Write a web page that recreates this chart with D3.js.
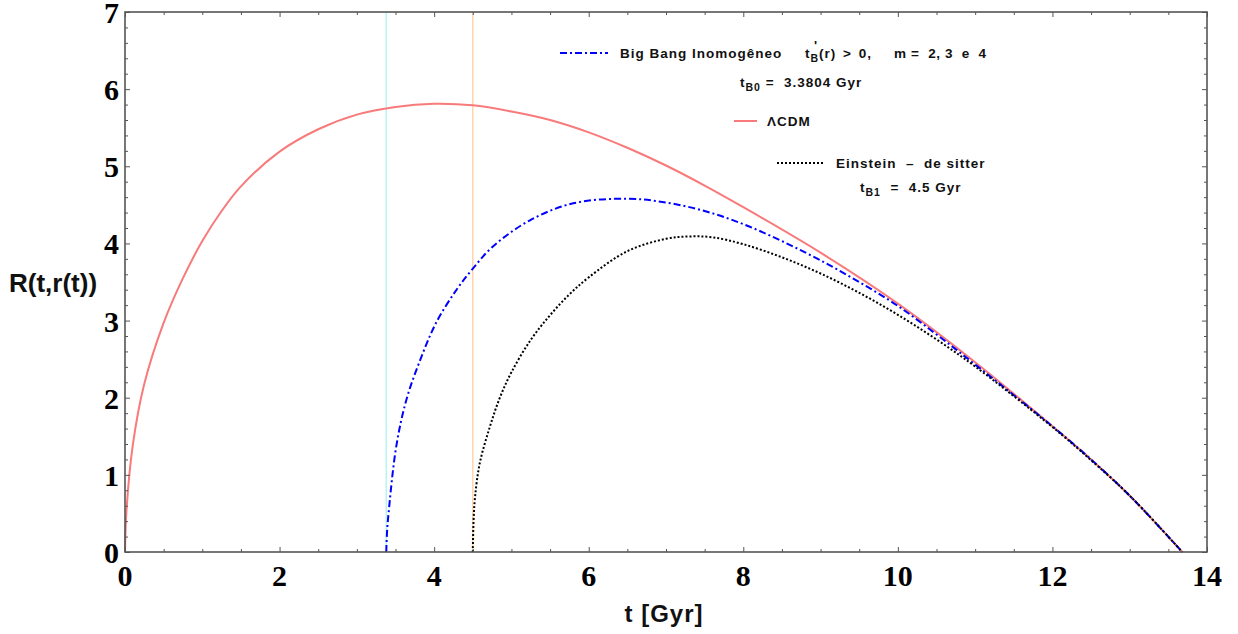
<!DOCTYPE html>
<html>
<head>
<meta charset="utf-8">
<script src="https://cdn.jsdelivr.net/npm/d3@7/dist/d3.min.js"></script>
<style>
  html, body { margin: 0; padding: 0; background: #fff; }
  svg { display: block; }
  .pre { white-space: pre; }
</style>
</head>
<body>
<svg id="chart" width="1238" height="634"></svg>
<script>
// ---- data ----
const xTicks = [0, 2, 4, 6, 8, 10, 12, 14];
const yTicks = [0, 1, 2, 3, 4, 5, 6, 7];

// Lambda-CDM
const lcdmT = [0, 0.02, 0.1, 0.25, 0.5, 0.75, 1.0, 1.25, 1.5, 2.0, 2.5, 3.0, 3.5, 4.0, 4.5, 5.0, 5.5, 6.0, 6.5, 7.0, 7.5, 8.0, 9.0, 10.0, 11.0, 12.0, 12.5, 13.0, 13.68];
const lcdmR = [0, 0.55, 1.38, 2.18, 2.97, 3.55, 4.03, 4.42, 4.74, 5.19, 5.48, 5.67, 5.77, 5.81, 5.79, 5.71, 5.60, 5.44, 5.24, 5.01, 4.75, 4.47, 3.88, 3.22, 2.46, 1.63, 1.20, 0.73, 0];

// Inhomogeneous Big Bang
const inhomT = [3.3804, 3.39, 3.41, 3.51, 3.64, 3.82, 4.03, 4.29, 4.49, 4.76, 5.24, 5.8, 6.5, 7.0, 7.5, 8.0, 8.5, 9.0, 9.5, 10.0, 10.5, 11.0, 12.0, 12.5, 13.0, 13.68];
const inhomR = [0, 0.25, 0.5, 1.37, 1.97, 2.49, 2.98, 3.40, 3.66, 3.96, 4.30, 4.52, 4.58, 4.53, 4.42, 4.25, 4.03, 3.78, 3.50, 3.19, 2.82, 2.43, 1.63, 1.20, 0.73, 0];

// Einstein - de Sitter
const edsT = [4.5, 4.51, 4.53, 4.59, 4.72, 4.85, 5.0, 5.25, 5.5, 5.75, 6.0, 6.5, 7.0, 7.3, 7.6, 8.0, 8.5, 9.0, 9.5, 10.0, 10.5, 11.0, 12.0, 12.5, 13.0, 13.68];
const edsR = [0, 0.4, 0.72, 1.15, 1.62, 2.0, 2.33, 2.75, 3.07, 3.34, 3.56, 3.90, 4.06, 4.09, 4.08, 3.99, 3.82, 3.61, 3.36, 3.075, 2.755, 2.405, 1.62, 1.19, 0.73, 0];

const bangTimes = [3.3804, 4.5];

// ---- layout ----
const svg = d3.select("#chart");
const mLeft = 125, mRight = 1207, mTop = 12, mBottom = 552;
const x = d3.scaleLinear().domain([0, 14]).range([mLeft, mRight]);
const y = d3.scaleLinear().domain([0, 7]).range([mBottom, mTop]);

const frameColor = "#555";

// vertical marker lines
svg.append("line").attr("x1", x(bangTimes[0])).attr("x2", x(bangTimes[0]))
  .attr("y1", y(7)).attr("y2", y(0)).attr("stroke", "#b8f4f4").attr("stroke-width", 1.5);
svg.append("line").attr("x1", x(bangTimes[1])).attr("x2", x(bangTimes[1]))
  .attr("y1", y(7)).attr("y2", y(0)).attr("stroke", "#ffcc99").attr("stroke-width", 1.2);

const line = d3.line().x(d => x(d[0])).y(d => y(d[1])).curve(d3.curveCatmullRom.alpha(0.5));

svg.append("path").datum(d3.zip(lcdmT, lcdmR)).attr("d", line)
  .attr("fill", "none").attr("stroke", "#f87a7a").attr("stroke-width", 2);
svg.append("path").datum(d3.zip(inhomT, inhomR)).attr("d", line)
  .attr("fill", "none").attr("stroke", "#0000ff").attr("stroke-width", 2)
  .attr("stroke-dasharray", "7,3,2,3");
svg.append("path").datum(d3.zip(edsT, edsR)).attr("d", line)
  .attr("fill", "none").attr("stroke", "#000").attr("stroke-width", 2)
  .attr("stroke-dasharray", "2,2");

// axes with inner ticks
function tickStyle(g) {
  g.select(".domain").remove();
  g.selectAll(".tick line").attr("stroke", frameColor).attr("stroke-width", 1);
}
const xMinor = d3.range(0, 14.001, 0.5).filter(v => Math.abs(v / 2 - Math.round(v / 2)) > 1e-6);
const yMinor = d3.range(0, 7.001, 0.2).filter(v => Math.abs(v - Math.round(v)) > 1e-6);

svg.append("g").attr("transform", `translate(0,${mBottom})`)
  .call(d3.axisBottom(x).tickValues(xTicks).tickSize(-5).tickFormat(""))
  .call(tickStyle);
svg.append("g").attr("transform", `translate(0,${mBottom})`)
  .call(d3.axisBottom(x).tickValues(xMinor).tickSize(-3).tickFormat(""))
  .call(tickStyle);
svg.append("g").attr("transform", `translate(0,${mTop})`)
  .call(d3.axisTop(x).tickValues(xTicks).tickSize(-5).tickFormat(""))
  .call(tickStyle);
svg.append("g").attr("transform", `translate(0,${mTop})`)
  .call(d3.axisTop(x).tickValues(xMinor).tickSize(-3).tickFormat(""))
  .call(tickStyle);
svg.append("g").attr("transform", `translate(${mLeft},0)`)
  .call(d3.axisLeft(y).tickValues(yTicks).tickSize(-5).tickFormat(""))
  .call(tickStyle);
svg.append("g").attr("transform", `translate(${mLeft},0)`)
  .call(d3.axisLeft(y).tickValues(yMinor).tickSize(-3).tickFormat(""))
  .call(tickStyle);
svg.append("g").attr("transform", `translate(${mRight},0)`)
  .call(d3.axisRight(y).tickValues(yTicks).tickSize(-5).tickFormat(""))
  .call(tickStyle);
svg.append("g").attr("transform", `translate(${mRight},0)`)
  .call(d3.axisRight(y).tickValues(yMinor).tickSize(-3).tickFormat(""))
  .call(tickStyle);

// frame
svg.append("rect").attr("x", mLeft).attr("y", mTop).attr("width", mRight - mLeft).attr("height", mBottom - mTop)
  .attr("fill", "none").attr("stroke", frameColor).attr("stroke-width", 1.6);

// tick labels
const serif = "'Liberation Serif', 'Times New Roman', serif";
svg.append("g").selectAll("text").data(xTicks).join("text")
  .attr("x", d => x(d)).attr("y", 586)
  .attr("text-anchor", "middle")
  .attr("font-family", serif).attr("font-weight", "bold").attr("font-size", 30)
  .attr("fill", "#000").text(d => d);
svg.append("g").selectAll("text").data(yTicks).join("text")
  .attr("x", 119).attr("y", d => y(d) + 11)
  .attr("text-anchor", "end")
  .attr("font-family", serif).attr("font-weight", "bold").attr("font-size", 30)
  .attr("fill", "#000").text(d => d);

// axis titles
const sans = "'Liberation Sans', Arial, sans-serif";
svg.append("text").attr("x", 664).attr("y", 622).attr("text-anchor", "middle")
  .attr("font-family", sans).attr("font-weight", "bold").attr("font-size", 24)
  .attr("letter-spacing", 1).attr("fill", "#111").text("t [Gyr]");
svg.append("text").attr("x", 9).attr("y", 292)
  .attr("font-family", sans).attr("font-weight", "bold").attr("font-size", 26)
  .attr("fill", "#111").text("R(t,r(t))");

// legend
const lg = svg.append("g").attr("font-family", sans).attr("font-weight", "bold")
  .attr("font-size", 13.5).attr("letter-spacing", 1).attr("fill", "#111");

lg.append("line").attr("x1", 560).attr("x2", 608).attr("y1", 53).attr("y2", 53)
  .attr("stroke", "#0000ff").attr("stroke-width", 2).attr("stroke-dasharray", "7,3,2,3");
lg.append("text").attr("x", 620).attr("y", 58).text("Big Bang Inomogêneo");
const tb = lg.append("text").attr("x", 805).attr("y", 58).attr("word-spacing", 2);
tb.append("tspan").text("t");
tb.append("tspan").attr("font-size", 10.5).attr("dy", 4).text("B");
tb.append("tspan").attr("dy", -4).text("(r) > 0,");
lg.append("text").attr("x", 814).attr("y", 50).attr("font-size", 13).text("'");
lg.append("text").attr("class", "pre").attr("x", 894).attr("y", 58)
  .attr("letter-spacing", 0.6).text("m =  2, 3  e  4");

const t0 = lg.append("text").attr("class", "pre").attr("x", 740).attr("y", 87);
t0.append("tspan").text("t");
t0.append("tspan").attr("font-size", 10.5).attr("dy", 4).text("B0");
t0.append("tspan").attr("dy", -4).text(" =  3.3804 Gyr");

lg.append("line").attr("x1", 734).attr("x2", 757).attr("y1", 121).attr("y2", 121)
  .attr("stroke", "#f87a7a").attr("stroke-width", 2);
lg.append("text").attr("x", 767).attr("y", 126).text("ΛCDM");

lg.append("line").attr("x1", 777).attr("x2", 824).attr("y1", 163).attr("y2", 163)
  .attr("stroke", "#000").attr("stroke-width", 2).attr("stroke-dasharray", "2,2");
lg.append("text").attr("class", "pre").attr("x", 836).attr("y", 168).text("Einstein  –  de sitter");

const t1 = lg.append("text").attr("class", "pre").attr("x", 860).attr("y", 192);
t1.append("tspan").text("t");
t1.append("tspan").attr("font-size", 10.5).attr("dy", 4).text("B1");
t1.append("tspan").attr("dy", -4).text("  =  4.5 Gyr");
</script>
</body>
</html>
